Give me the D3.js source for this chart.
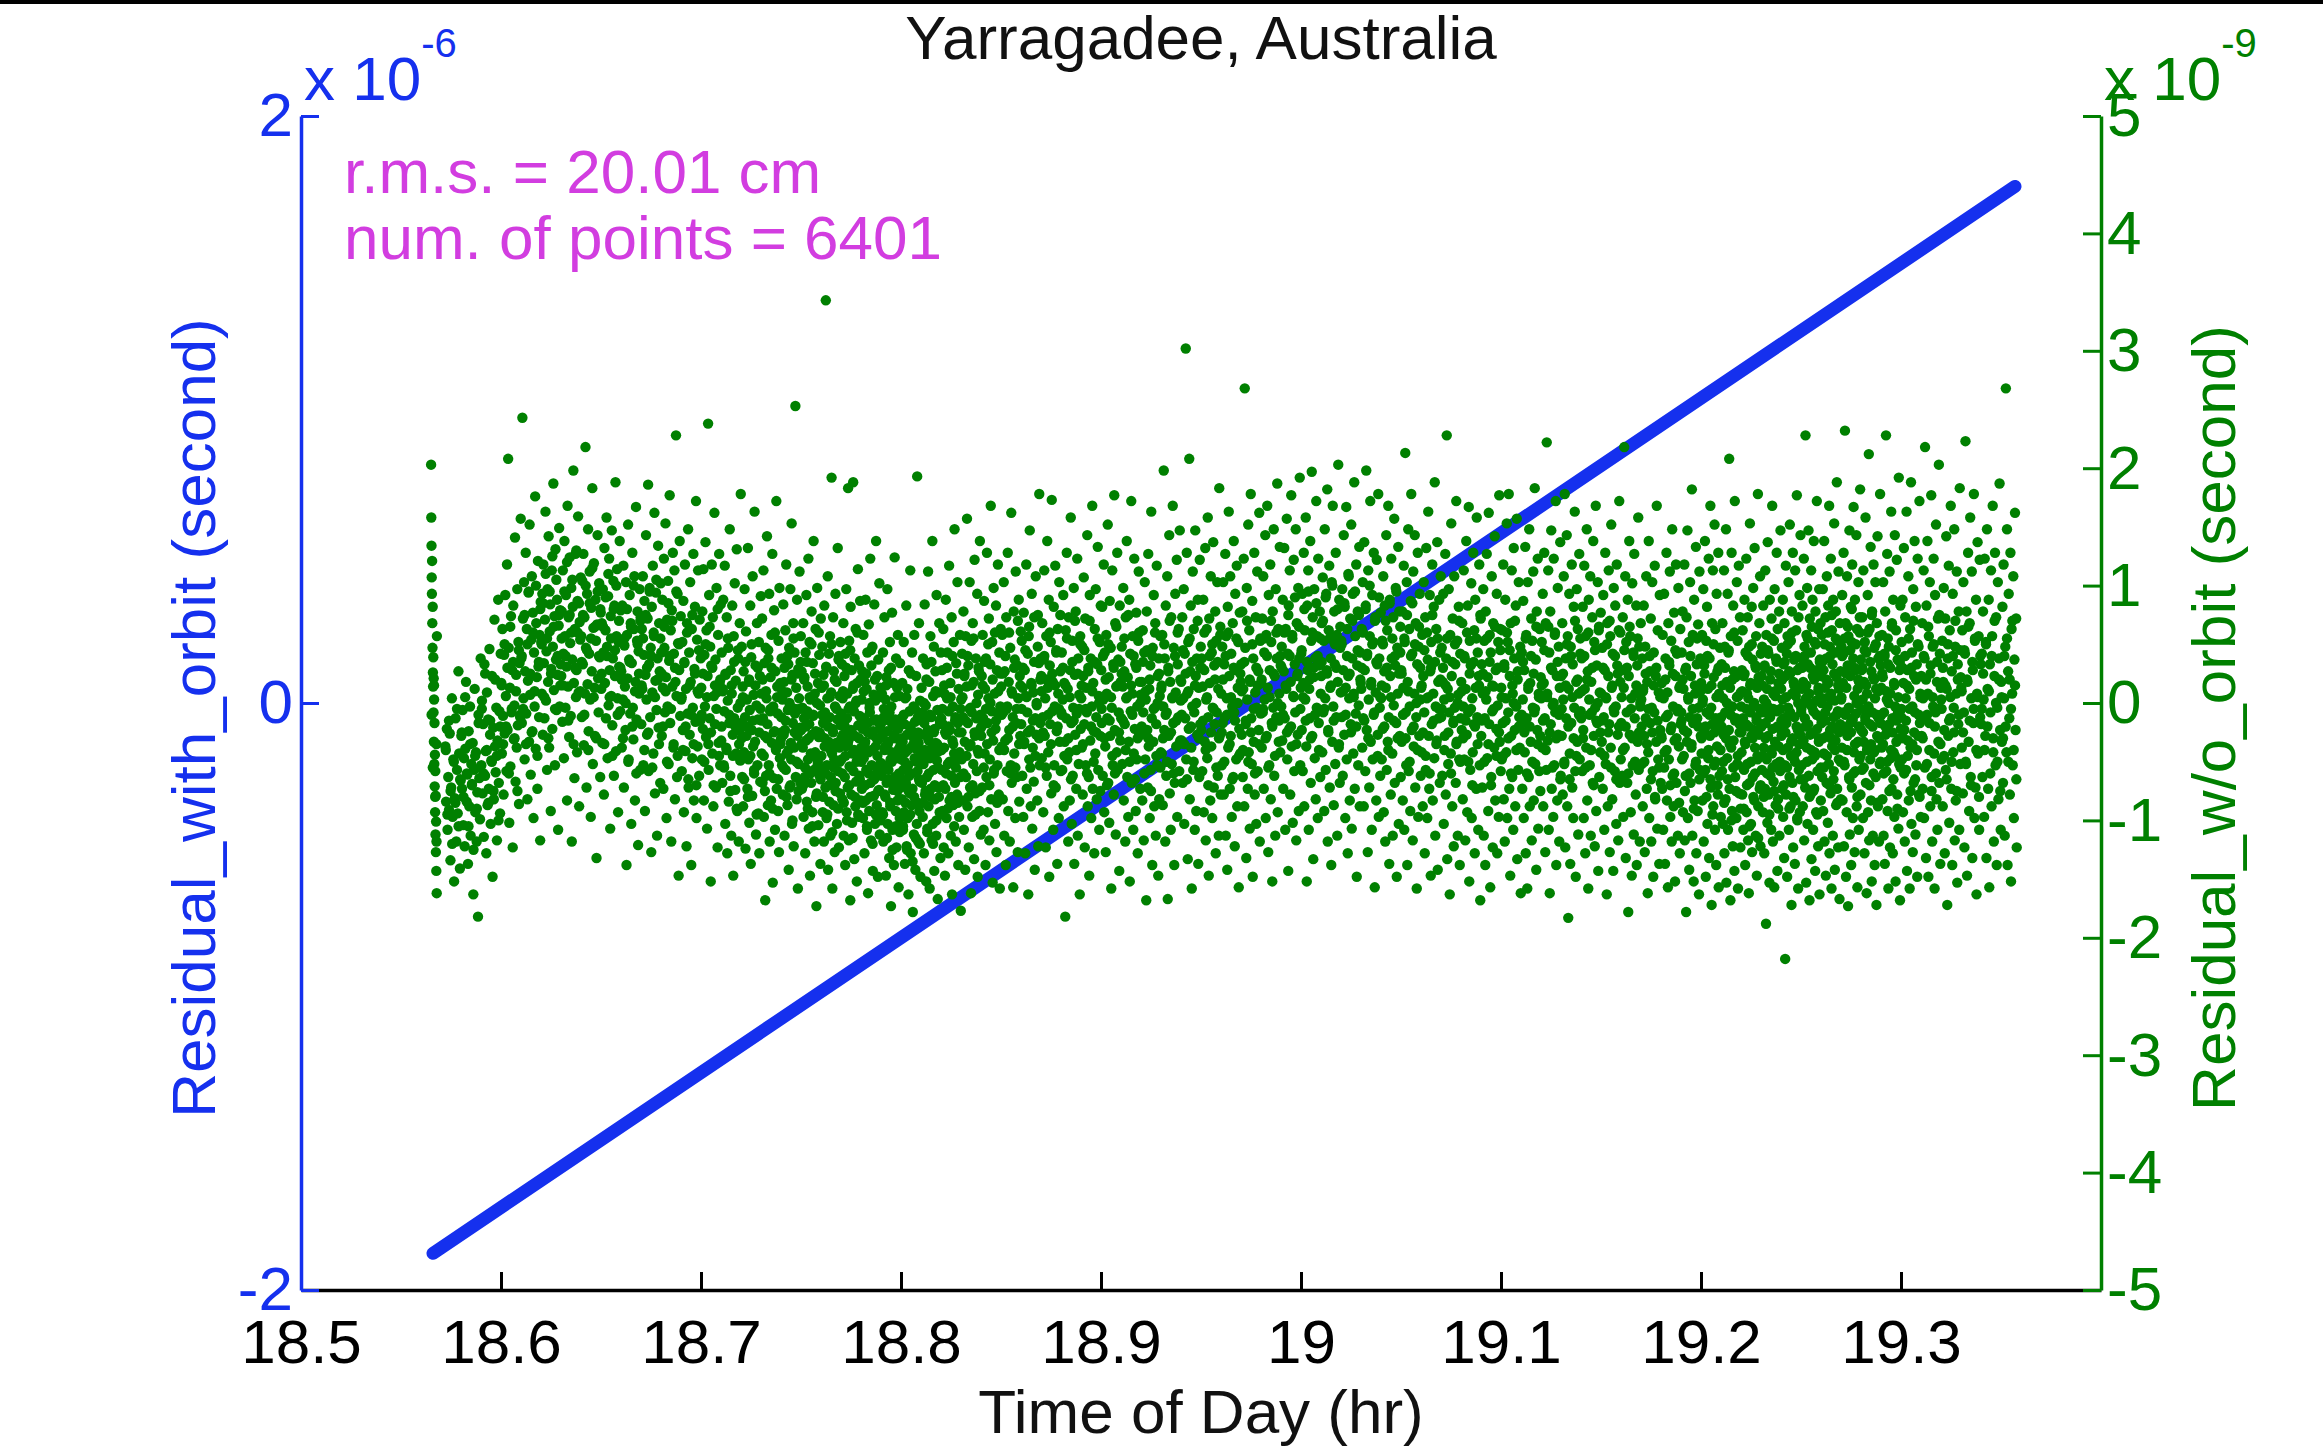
<!DOCTYPE html>
<html><head><meta charset="utf-8">
<script src="https://cdn.jsdelivr.net/npm/d3@7/dist/d3.min.js"></script>
<style>
html,body{margin:0;padding:0;background:#fff;}
svg{display:block;}
text{font-family:"Liberation Sans",Arial,Helvetica,sans-serif;}
</style>
</head><body>
<svg id="chart" width="2323" height="1451"></svg>
<script>
// ---------- data ----------
const chartTitle = "Yarragadee, Australia";
const xLabel = "Time of Day (hr)";
const leftLabel = "Residual_with_orbit (second)";
const rightLabel = "Residual_w/o_orbit (second)";
const annotationLines = ["r.m.s. = 20.01 cm", "num. of points = 6401"];
const xTicks = [18.5, 18.6, 18.7, 18.8, 18.9, 19.0, 19.1, 19.2, 19.3, 19.4];
const xTickLabels = ["18.5", "18.6", "18.7", "18.8", "18.9", "19", "19.1", "19.2", "19.3", ""];
const leftTicks = [-2, 0, 2];               // x 10^-6
const leftTickLabels = ["-2", "0", "2"];
const rightTicks = [-5, -4, -3, -2, -1, 0, 1, 2, 3, 4, 5];   // x 10^-9
const rightTickLabels = ["-5", "-4", "-3", "-2", "-1", "0", "1", "2", "3", "4", "5"];
const leftExponent = "-6";
const rightExponent = "-9";

// residual with orbit (units of 1e-6 s)
const blueTimes = [18.566, 19.357];
const blueValues = [-1.875, 1.76];

// residual without orbit: points grouped by time bin, values in units of 0.01e-9 s
const greenBinStart = [18.565, 18.572, 18.58, 18.59, 18.60, 18.61, 18.62, 18.63, 18.64, 18.65,
  18.66, 18.67, 18.68, 18.69, 18.70, 18.71, 18.72, 18.73, 18.74, 18.75,
  18.76, 18.77, 18.78, 18.79, 18.80, 18.81, 18.82, 18.83, 18.84, 18.85,
  18.86, 18.87, 18.88, 18.89, 18.90, 18.91, 18.92, 18.93, 18.94, 18.95,
  18.96, 18.97, 18.98, 18.99, 19.00, 19.01, 19.02, 19.03, 19.04, 19.05,
  19.06, 19.07, 19.08, 19.09, 19.10, 19.11, 19.12, 19.13, 19.14, 19.15,
  19.16, 19.17, 19.18, 19.19, 19.20, 19.21, 19.22, 19.23, 19.24, 19.25,
  19.26, 19.27, 19.28, 19.29, 19.30, 19.31, 19.32, 19.33, 19.34, 19.35];
const greenBinEnd = [18.568, 18.58, 18.59, 18.60, 18.61, 18.62, 18.63, 18.64, 18.65, 18.66,
  18.67, 18.68, 18.69, 18.70, 18.71, 18.72, 18.73, 18.74, 18.75, 18.76,
  18.77, 18.78, 18.79, 18.80, 18.81, 18.82, 18.83, 18.84, 18.85, 18.86,
  18.87, 18.88, 18.89, 18.90, 18.91, 18.92, 18.93, 18.94, 18.95, 18.96,
  18.97, 18.98, 18.99, 19.00, 19.01, 19.02, 19.03, 19.04, 19.05, 19.06,
  19.07, 19.08, 19.09, 19.10, 19.11, 19.12, 19.13, 19.14, 19.15, 19.16,
  19.17, 19.18, 19.19, 19.20, 19.21, 19.22, 19.23, 19.24, 19.25, 19.26,
  19.27, 19.28, 19.29, 19.30, 19.31, 19.32, 19.33, 19.34, 19.35, 19.358];
// full spread of each bin
const greenBinValues = [
[203,158,134,107,93,121,68,47,82,26,14,39,-8,21,-33,3,-52,-17,-71,-44,-93,-58,-112,-79,-127,-101,-143,-118,-162,57],
[-37,-84,-22,-108,-63,-91,-26,-134,-72,4,-97,-48,-152,-81,-13,-118,-57,-94,27,-43,-141,-66],
[-28,-73,-6,-104,-47,-122,-39,18,-84,-61,-137,-24,-88,-3,-113,-52,-69,-34,-163,-57,12,-93,-42,-118,-76,-182,-17,-64,-99,38],
[-53,2,-77,-18,-114,33,-62,-41,-128,9,-87,-14,-73,46,-27,-103,-49,23,-148,-21,-82,71,-37,-59,-4,-117,-32,88,-68,-7,-94,42],
[17,-43,63,-11,-78,41,-26,92,6,-58,118,-23,208,47,-102,13,-54,74,-8,28,-123,83,-31,-2,141,-67,24,-38,97,-19,52,-86,34,-12,157],
[38,-17,243,72,4,103,-48,27,128,-9,63,-82,19,94,-33,152,7,-61,54,108,-24,77,-98,43,-3,176,-39,68,22,-73,121,31,-12,58,-117,86],
[52,8,93,-27,118,34,-13,71,163,2,44,-57,97,18,142,-38,61,84,-92,29,113,-22,48,187,11,74,-53,131,37,-6,88,24,-108,66,149,-3,79,33],
[23,78,-16,113,42,-47,138,57,-4,92,31,-83,168,14,73,-29,124,51,-11,98,-118,37,82,198,17,-64,63,127,5,28,-42,87,159,9,-88,69,54,107],
[57,-12,104,33,127,-36,73,8,218,47,-72,93,16,148,-24,42,112,3,-97,81,27,183,-52,64,119,13,-28,88,53,-132,67,143,21,-8,102,39,-63,77],
[12,68,-34,97,43,-78,132,17,62,-13,158,48,-47,91,-2,123,28,-107,74,6,147,-19,38,104,-62,83,23,188,-41,57,114,4,-93,52,31,138,-7,79],
[27,-38,83,3,117,-72,49,14,-23,103,-138,58,21,152,-48,37,92,-9,68,-103,34,128,-4,-31,63,108,-83,18,167,-14,53,78,-121,44,8,97,-57,73],
[-18,63,12,108,-53,41,87,-92,24,143,3,-27,72,186,-58,33,98,-12,47,-127,82,9,117,-43,57,162,-77,19,94,-6,-113,38,134,-21,68,27,-68,102],
[43,-28,88,13,-73,123,47,-8,153,22,-98,71,-3,104,-52,36,177,-17,62,-118,79,14,128,-38,42,113,-82,18,228,6,-63,93,51,-147,28,138,-11,74],
[3,-58,52,-23,87,-93,34,118,-41,12,-122,68,-9,148,-72,43,-27,103,18,-138,63,-47,-4,127,-83,29,82,-16,172,-98,54,-37,113,8,-62,71,-12,38],
[13,-48,78,-22,114,-83,41,-3,137,-29,62,-107,23,238,-57,92,-13,48,-152,32,118,-43,73,-88,6,162,-18,37,-72,98,9,-123,58,-34,127,17,-53,84],
[-32,43,-68,12,88,-53,-7,117,-103,24,-38,73,-128,2,47,-84,-17,148,-62,28,-113,8,83,-27,-147,57,-13,102,-74,19,-43,131,-92,-4,38,-118,-23,68,-49,178],
[-17,48,-63,14,-88,27,-42,97,-12,-124,61,-28,3,-73,132,-48,18,-102,-6,83,-137,39,-23,-79,108,-37,7,-57,163,-33,32,-112,-2,68,-53,-14,-94,52,-128,23,-67,91],
[8,-43,72,-68,-13,113,-97,34,-28,-168,47,-62,4,142,-18,-87,38,-53,93,-118,-7,22,-83,58,-34,127,-153,-3,-64,79,-24,-108,27,-39,172,-73,14,-9,-92,53,-127,98,-47,17,-31],
[-12,38,-53,3,-78,84,-27,18,-113,-23,62,-57,118,-43,9,-87,-6,33,-142,47,-72,-2,97,-34,-48,153,-103,24,-17,68,-122,-38,43,-9,253,-63,13,-82,88,-28,-158,29,-52,4,112,-21,-68,57],
[-23,27,-73,-4,-38,68,-97,-13,22,-63,-128,43,-32,92,-84,-7,14,-48,123,-107,-18,52,-147,3,-43,-68,78,-27,-93,34,-11,138,-57,-118,8,-42,63,-24,-173,-77,98,-53,17,-104,-29,41,-62,-2,-137,72],
[-28,13,-57,48,-93,-17,24,-118,83,-37,-8,-72,343,31,-98,-53,4,108,-142,-33,42,-84,-12,57,-113,-63,9,192,-43,-158,-22,73,-87,27,-48,-127,-3,93,-68,-34,18,-103,-14,132,-58,37,-123,-38,6,-77,52,-19],
[-9,-48,33,-82,4,-27,68,-113,-18,23,-63,-138,42,-37,97,-93,-13,8,-72,183,-32,-117,53,-54,-3,-168,82,-23,-78,28,-102,-43,12,188,-58,-7,-133,38,-28,-88,63,-67,2,-152,17,-49,114,-19,-97,32,-62,-11,87,-44,-83],
[-38,3,-73,27,-22,-98,58,-47,-13,-128,18,-33,88,-83,-57,12,-108,43,-17,-162,-42,67,-92,-4,-8,123,-68,-117,32,-53,-27,48,-143,-24,7,-79,84,-62,-103,2,-37,138,-14,-87,23,-58,-148,37,-31,-74,102,-112,-19,13,-51],
[-17,-62,8,-93,-28,43,-118,-12,-53,73,-78,-37,3,-147,22,-68,-24,97,-103,-33,-57,28,-132,-8,52,-88,-48,-173,-3,-42,77,-108,-19,-74,17,-138,-27,124,-63,-14,-92,38,-123,-47,13,-83,58,-22,-157,-39,6,-98,34,-72,-31],
[-48,-13,-82,17,-33,-108,-57,52,-93,-18,-137,4,-42,-68,83,-122,-27,12,-98,-53,-163,28,-62,-7,-77,113,-128,-38,-23,-87,43,-73,-178,-29,-3,-112,58,-47,-16,-142,-84,23,-39,-103,193,-58,-12,-118,-34,68,-92,-67,2,-148,-52],
[-27,13,-68,-8,-97,38,-52,-128,-17,84,-78,-43,-2,-152,33,-63,-107,-23,112,-88,-32,18,-158,-47,57,-73,-12,-117,-38,138,-103,6,-57,48,-143,-22,-82,27,-34,-113,92,-49,-6,-167,9,-72,-41,68,-93,-18,-132,43],
[-13,-57,28,-92,-18,63,-123,-38,8,-147,-73,88,-27,-98,4,43,-52,-128,-7,117,-83,-23,17,-113,-62,73,-163,-32,-3,-87,52,-43,148,-68,-12,-118,34,-48,-78,103,-17,-138,12,-97,-42,58,-63,-177],
[3,-48,42,-83,-12,78,-108,23,-33,-142,57,-63,14,157,-88,-17,32,-123,-37,103,-72,-4,-162,53,-8,-97,68,-52,18,-133,122,-28,-77,38,-13,-58,93,-148,7,-43,27,-92,138,-22,-112],
[-28,23,-72,58,-13,-108,87,-43,12,-138,38,-63,128,-17,-93,4,72,-117,-48,33,168,-82,-7,52,-153,-32,98,-57,8,-103,-22,83,-127,28,-53,118,-9,-78,43,-158,-3,63],
[14,-37,58,-82,-8,103,-113,27,-32,-138,73,-58,-3,128,-92,18,-23,-118,47,-53,162,-68,8,-12,-157,78,-43,37,-98,112,-17,-63,32,-127,4,88,-84,23,-28,61],
[-18,53,-62,13,-97,77,-33,28,-128,6,118,-73,-8,42,-163,57,-48,147,-23,-88,17,93,-107,-38,9,-67,73,-142,-13,108,-27,-2,-83,48,-122,34,178,-53,-17,38],
[23,-47,68,-12,-93,37,113,-28,4,-123,57,-62,138,13,-42,88,-148,32,-18,52,-77,173,-7,18,-108,82,-53,-3,117,-72,43,-24,-137,63,8,-98,103,-33,27,-58],
[-8,43,-57,3,92,-88,17,-33,-182,62,-13,128,-48,12,-118,73,-42,-83,28,158,-17,-103,53,-62,-4,98,-137,24,-27,78,-73,-9,123,-113,38,-52,7,-163,57,-22],
[4,-38,48,-78,23,107,-18,-123,72,-53,13,-8,143,-88,27,-63,-147,92,-32,38,-98,-3,168,-73,17,-24,-128,63,-43,97,-12,-82,33,133,-57,6,-108,52,-28,83],
[28,-17,82,-62,3,118,-93,43,-37,-127,58,8,-13,152,-68,22,-102,87,-28,47,-158,-4,113,-53,33,-78,177,-23,68,-112,14,-42,128,-57,37,-8,-143,83,-32,18],
[-13,48,-52,14,98,-83,27,-18,-118,73,4,138,-63,22,-97,-33,88,-152,42,-7,172,-68,8,57,-108,-43,123,-22,33,-92,77,-48,-3,-128,53,112,-27,18,-73,7],
[-27,18,-83,62,-8,-117,43,103,-48,3,-168,78,-23,-72,127,-37,12,-98,32,-57,163,-13,-138,47,-33,92,-88,-4,68,-113,-18,117,-53,23,-147,38,-82,6,57,-42],
[12,-43,58,-87,-3,198,-23,38,-118,83,-62,-8,108,-167,27,-28,143,-77,18,-108,73,-52,4,168,-17,47,-138,-68,93,9,-37,122,-97,33,-12,63,-58,147,-32,2],
[18,-32,73,-68,4,97,-103,42,-13,302,-48,128,8,-133,52,-22,208,-82,27,83,-38,-158,-3,112,-57,63,-8,-108,147,23,-92,38,-27,88,-137,13,-63,122,-18,48],
[-23,38,-58,14,88,-93,28,-33,132,-117,3,63,-47,158,-12,-147,72,17,-83,108,-37,43,-98,-4,137,-72,32,-18,78,-128,53,-8,103,-62,12,-113,183,-28,58,-78],
[8,-53,48,-17,103,-78,33,-12,127,-113,57,4,-142,82,-38,163,23,-73,108,-28,42,-97,-3,68,-63,138,-8,-122,93,28,-48,117,-88,13,52,-157,-22,77,-43,18],
[33,-27,78,-63,12,123,-88,268,47,-18,-132,98,3,-73,152,-42,62,-107,18,178,-13,-52,87,-148,38,-33,128,-78,9,73,-103,-4,112,-58,27,-23,162,-118,53,-9],
[17,-38,72,-8,108,-73,43,3,143,-98,58,-28,168,13,-127,92,-53,28,118,-82,52,-17,-152,78,-4,148,-62,23,-113,97,-12,38,187,-93,63,-33,8,133,-42,32],
[-3,48,-32,88,-73,27,132,-13,-108,63,12,157,-48,42,-143,83,-22,113,-78,18,177,-37,58,-102,6,122,-58,33,-8,148,-117,68,23,-27,98,-92,38,192,-53,13],
[42,-23,93,-58,17,128,-88,62,3,158,-37,-152,83,28,113,-108,12,-13,138,-68,53,197,-28,73,-133,22,97,-47,38,-82,172,-4,57,-98,123,-17,32,78,-63,8],
[23,68,-42,107,-8,53,-92,148,4,-57,93,28,182,-118,-23,62,117,-72,13,38,-138,103,-33,168,-3,-87,78,33,-52,128,-12,58,-113,18,203,-38,88,-68,47,9],
[53,-12,97,-62,28,143,-27,82,-98,13,167,-48,63,-128,23,108,4,-83,72,-18,152,-107,38,93,-43,8,188,-73,57,-9,118,-148,32,78,-53,-2,133,-88,43,17],
[12,63,-38,103,-13,-88,137,28,-58,83,198,-23,42,-127,113,3,-72,57,172,-33,18,-108,92,-48,52,128,-8,-157,73,9,-83,122,33,-27,178,-97,38,-4,-62,77],
[4,-48,53,-22,108,-93,27,83,-118,13,143,-57,62,-33,168,-12,-137,88,23,-78,123,38,-43,-113,73,-2,157,-68,32,98,-17,-148,47,8,133,-103,78,-28,43,-63],
[28,-33,78,-83,13,117,-108,52,213,-8,-53,103,-138,18,148,-58,63,-3,-92,87,178,-23,42,-117,112,-37,8,143,-72,68,-12,-158,33,128,-97,48,-28,93,3,-62],
[13,-42,58,-88,23,103,-8,-128,73,-57,132,4,-98,37,163,-28,-73,92,27,-147,52,-18,118,-83,8,82,-47,188,-113,-3,63,-32,137,-142,18,-13,88,-68,43,108],
[-12,47,-62,18,93,-103,3,-28,127,-78,38,228,-133,12,-52,97,-8,-163,58,-43,153,23,-88,72,-17,-122,108,-4,33,-68,172,-33,53,-113,7,82,-48,-138,42,-13],
[18,-23,68,-82,-3,113,-48,38,-117,12,138,-27,-93,83,-8,167,-152,53,-57,32,102,-98,4,-42,128,-18,62,-128,88,13,-73,158,-12,43,-108,23,118,-53,-168,72],
[-28,33,-72,8,97,-113,53,-13,-138,78,3,127,-47,22,-92,162,-18,58,-157,43,-63,108,-7,-123,68,14,-38,142,-83,28,-22,93,-128,-2,52,-97,177,-33,63,-58],
[13,-48,62,-17,118,-82,33,-118,88,4,-42,153,-98,52,-8,178,-73,23,-147,68,-28,113,-63,8,-108,132,38,-23,-88,83,-3,157,-133,27,-57,103,-12,-38,48,-162],
[-18,43,-73,3,87,-98,28,-42,133,-128,58,-13,-158,103,12,-63,148,-88,17,-33,72,-117,53,-4,112,-83,-8,183,-52,37,-142,78,-23,123,-107,8,-58,63,-28,22],
[4,52,-38,93,-88,17,128,-13,-127,68,-57,222,8,-32,113,-108,43,-162,78,-18,147,-73,28,-2,-97,123,-53,58,-8,172,-138,23,-83,98,-27,48,-118,13,137,-62],
[23,-28,68,-78,3,108,-52,178,-123,38,-13,143,-88,57,-183,12,93,-43,-137,48,-17,118,-72,33,-98,82,-4,163,-58,-148,18,97,-33,63,-112,8,127,-48,42,-7],
[-13,38,-58,82,-23,-98,117,12,-128,57,-38,148,-83,27,-158,88,3,-53,108,-113,18,-8,73,-68,138,-28,52,-122,-4,168,-92,32,-17,103,-143,62,-63,9,-42,77],
[8,-33,47,-73,92,-12,-108,28,128,-52,4,-163,68,-88,23,113,-18,-127,57,-38,152,13,-82,42,-143,98,-8,-58,83,-3,-103,118,32,-27,-117,62,172,-68,18,-48],
[-17,28,-62,73,-97,13,218,-38,108,-132,52,-8,-68,88,-178,23,138,-27,57,-93,4,-147,102,-53,43,-112,127,-13,8,-78,83,-138,32,-33,158,-57,48,-118,-3,68],
[3,-52,38,-88,12,83,-28,-127,48,-13,108,-73,18,-162,-42,138,-98,27,-17,72,-118,-4,103,-58,-148,43,-8,117,-82,23,-33,168,-107,62,-48,9,-137,92,-23,-68],
[-28,17,-73,58,-108,4,93,-42,-137,38,-12,128,-83,9,-157,68,-48,32,112,-97,-23,53,-118,148,-62,-3,-88,77,-32,-152,23,118,-68,42,-7,-113,98,-37,13,-128,63,-18],
[-8,43,-48,78,-93,12,-23,118,-117,28,-62,-178,73,-33,147,-98,3,52,-142,-12,103,-68,23,-38,182,-113,58,-17,-152,88,-83,8,-53,133,-128,33,-13,-92,67,-4,-163,112,-57,38,-28],
[17,-43,58,-83,3,97,-118,32,-23,138,-57,-148,53,-8,82,-103,12,-47,123,-132,38,-28,168,-72,-4,-172,68,-18,113,-88,22,-53,152,-108,63,-13,-138,93,-37,27,-78,128,-157,8,-62,47,-22,-97],
[-12,33,-58,68,-103,4,-27,113,-128,48,-8,-82,148,-153,18,-47,93,-108,43,-23,208,-73,13,-168,57,-38,128,-92,-3,-122,83,-32,27,-143,172,-63,22,-13,-98,103,-52,53,-158,6,117,-77,-18,73,-123,9],
[-3,-42,28,-78,62,-13,-108,23,-57,88,-33,-138,43,-18,123,-93,8,-52,73,-117,4,-162,48,-68,153,-8,17,-103,-28,82,-127,37,-63,98,-2,-23,-83,132,-38,32,-113,57,-12,-147,13,-48,178,-88,22,-27,68,-73,108,-122,42],
[-18,23,-57,48,-8,-93,83,-38,3,-128,32,-73,113,-17,-188,58,-48,12,-102,137,-28,42,-78,-4,-153,88,-12,-62,27,-108,72,-43,168,-22,-118,8,-67,53,-157,97,-33,6,-87,38,-52,128,-7,-143,63,-82,17,-37,78,-113,13,-58,147,-23],
[12,-28,47,-73,3,88,-97,33,-13,-132,68,-53,-218,23,117,-78,-17,42,-148,57,-38,-4,103,-108,27,-63,152,-8,-88,53,-33,-172,78,8,-68,128,-123,18,-47,37,-12,-137,113,-83,6,62,-42,177,-98,28,-23,-158,73,-57,13,92,-93,-27,143,-3],
[-8,38,-53,12,83,-88,18,-32,123,-117,48,-13,-72,228,4,-153,58,-38,98,-103,33,-18,147,-62,8,-168,72,-27,-78,43,113,-133,-3,-48,88,23,-108,-7,138,-73,52,-42,-143,78,2,-93,28,172,-22,-58,63,-122,13,-33,97,-163,37,-12,68,-83],
[23,-17,58,-63,4,97,-92,28,-43,138,-118,13,-8,73,-147,38,-68,108,-28,-3,-102,83,17,-52,168,-128,48,-23,-77,123,8,-158,62,-37,33,-113,88,-12,-58,153,2,-142,43,-32,78,-87,22,188,-73,53,-7,-123,112,-48,12,-167,68,-18,27,-82],
[3,48,-38,92,-83,17,-8,128,-122,43,-53,232,-23,68,-148,13,-93,108,-28,32,-173,57,-4,-63,147,-112,23,-17,82,-138,52,-72,118,-13,-98,38,167,-42,6,-127,88,-58,28,-9,143,-88,63,-157,12,-33,103,-108,18,-48,73,182,-78,37],
[-23,28,-57,73,3,-98,113,-33,18,-128,52,-12,158,-68,43,-162,8,-37,92,-93,-3,212,-117,63,-18,-48,133,-83,27,-152,78,-8,-113,22,118,-42,47,-138,4,103,-63,12,-172,68,-28,142,-88,38,-13,-118,57,-52,178,-17,32],
[13,-38,58,-82,22,103,-113,-8,42,-137,78,-27,228,-58,3,127,-92,33,-158,48,-18,112,-123,8,-47,163,-73,68,-13,-128,88,-42,17,-97,143,-3,-152,62,-33,122,-78,37,-8,-107,192,-52,28,-168,83,-22],
[-12,52,-48,88,-93,17,132,-23,-118,73,4,-57,163,-143,28,-32,108,-83,12,-158,63,-38,188,-103,43,-3,-127,97,-68,23,138,-8,-112,82,-53,33,-148,123,-28,48,-78,172,-17,8,-97],
[23,-28,68,-73,4,113,-98,38,218,-12,-132,83,-52,138,8,-148,57,-17,103,-88,32,177,-63,-118,48,-3,123,-43,-158,92,-8,152,-82,18,-108,72,-33,203,-68,42,-137,13],
[3,-48,53,-88,18,98,-23,-128,72,-57,142,12,-172,38,-28,117,-102,62,-13,168,-73,27,-138,93,-42,-4,148,-117,48,-83,8,112,-153,33,-18,78,-108,183,-52,22],
[13,-38,62,-77,103,-8,-123,42,223,-52,78,-147,18,128,-33,-92,68,158,-63,4,112,-132,28,-17,178,-98,53,-72,88,-163,8,137,-43,57,-108,122,-12,33],
[-18,42,-63,78,3,-97,123,-28,52,-132,148,12,-73,88,-157,33,-8,113,-88,57,168,-42,-118,23,128,-53,73,-138,-4,103,-82,38,187,-23,-108],
[18,-33,82,-68,118,4,-113,48,268,-42,148,-138,27,93,-13,-78,128,-152,63,8,-53,108,-98,37,162,-23,72,-123]
];
// additional points in the denser middle part of each bin (same units)
const greenBinCoreValues = [
[-10,-55,15,-80,-35],
[-40,-95,-15,-75,-120,-50,-85,-5,-105,-65],
[-25,-80,5,-60,-105,-35,-70,-125,-45,-90,-10,-55],
[-5,-60,25,-40,-85,-15,-50,-75,20,-45,-100,-20],
[15,-35,50,-20,30,-60,65,-5,35,-30,10,-75,45,-10],
[40,-5,75,-35,50,95,25,-25,60,10,100,-45,35,80],
[50,85,5,110,55,-30,95,25,125,65,-5,105,40,75,15],
[55,15,95,40,120,-15,75,60,105,-35,30,130,60,85,10],
[35,75,-10,100,45,-40,85,55,115,5,65,-30,95,40,80],
[25,65,-35,90,40,110,5,55,-45,80,45,100,-10,70,30],
[20,-30,55,0,80,-50,35,65,-20,100,10,-60,50,25,70],
[15,55,-40,75,30,-25,95,40,-55,60,5,105,20,-35,55],
[25,-20,65,10,-50,85,40,-5,70,-35,30,95,-45,50,5],
[5,-40,35,-20,60,-65,15,-10,75,-35,25,-70,10,45,-15],
[-10,25,-50,50,5,-35,65,-25,30,-70,15,-5,80,-45,20],
[-20,10,-55,25,-40,55,-10,-75,15,-45,35,-20,-90,45,-35,0],
[-30,5,-65,35,-20,-80,20,-45,50,-15,-60,15,-95,30,-25,-5],
[-15,20,-45,-75,10,-30,45,-60,-5,30,-90,-25,60,-40,5,-65,15,-35],
[-25,10,-55,30,-15,-80,40,-40,0,-70,20,-100,55,-25,-5,-50,25,-75,-5,35],
[-35,-5,-70,20,-55,-20,35,-90,-30,5,-60,50,-105,-10,-45,25,-80,0,-50,60,-25,-65],
[-45,-10,-80,15,-30,-60,30,-95,-20,-70,5,-40,50,-110,-25,-55,20,-75,-5,-35,-90,40,-50,-15],
[-30,-60,10,-85,-20,-45,30,-100,-35,-5,-70,45,-55,-25,-115,15,-40,-80,0,-50,60,-95,-30,-65,20],
[-50,-15,-85,10,-35,-70,25,-105,-25,-60,0,-80,45,-40,-120,-15,-65,20,-95,-30,-45,-75,5,-55,-100],
[-55,-25,-95,-5,-40,-80,15,-115,-35,-65,-15,-85,30,-50,-125,-30,-70,5,-105,-45,-75,-15,-60,-110,-35],
[-65,-30,-105,-10,-50,-85,5,-125,-40,-75,-20,-95,25,-60,-135,-35,-80,-5,-115,-50,-85,-25,-65,-120,-45],
[-50,-15,-85,0,-40,-75,20,-110,-30,-60,-10,-80,35,-45,-120,-25,-70,10,-100,-35,-55,-80,-15,-95],
[-40,-5,-70,15,-25,-60,30,-90,-20,-50,5,-80,40,-35,-105,-15,-55,25,-85,-25,-45,-5],
[-25,5,-60,25,-15,-45,40,-80,-5,-35,15,-70,55,-25,-95,0,-40,30,-75,-10],
[-20,15,-55,35,-5,-35,50,-70,0,-25,20,-60,60,-15,-85,10,-40,25],
[-10,25,-40,40,-5,-30,60,-60,10,-20,30,-55,-5,70,-35,15],
[-5,30,-35,45,5,-25,65,-55,15,-15,35,-45,0,75,-30,20],
[10,-25,40,-55,20,-10,60,-35,25,-70,15,45,-20,-5,75],
[-10,30,-45,15,55,-30,5,-65,35,-15,70,-40,25,-5,50],
[15,-35,45,-5,-60,30,70,-20,10,-50,35,-25,55,0,-75],
[-5,40,-30,20,-70,50,-15,5,-45,30,-60,65,15,-25,35],
[25,-15,55,-40,5,75,-50,15,-10,40,-65,30,-30,60,0],
[-20,35,-60,10,45,-30,20,-75,40,-5,60,-45,0,25,-55],
[15,-30,50,-10,-50,30,70,-25,5,-60,40,-15,60,-35,20],
[-10,45,-35,25,-65,10,55,-20,35,-50,15,0,70,-30,30],
[30,-15,60,-40,5,-70,40,-25,50,-5,20,-55,35,-30,65],
[-25,20,-50,40,-10,60,-35,5,-65,30,-15,55,0,-45,25],
[10,-40,35,-15,70,-50,20,-25,50,-5,-60,30,15,-35,55],
[20,-5,55,-30,40,-55,5,70,-20,25,-45,60,0,-15,40],
[30,-10,60,15,-25,75,40,-20,55,5,90,-35,25,65,-5],
[45,5,80,-15,35,95,20,-30,60,30,-10,85,40,-40,55],
[35,70,-5,90,25,-25,55,15,100,-15,50,30,80,-35,65],
[50,10,85,-10,40,110,25,-25,70,5,95,-20,45,75,20],
[30,60,-15,80,40,-30,100,15,50,-10,70,35,-45,90,5],
[15,50,-20,70,30,-40,85,5,55,-15,40,95,-30,25,65],
[25,-10,55,-30,75,10,-50,40,85,-20,50,0,-40,65,30],
[15,-25,45,-45,60,5,-60,30,75,-15,35,-35,55,-5,20],
[-5,30,-40,15,55,-25,5,-60,35,-15,50,-35,0,70,-50],
[10,-30,40,-15,60,-50,25,-5,-70,35,-20,55,-35,15,75],
[-15,25,-50,10,55,-35,35,-70,15,-5,65,-45,30,-25,45],
[5,-45,30,-15,60,-30,45,-60,15,0,70,-40,20,-20,40],
[-10,35,-25,55,-60,15,-20,40,-50,25,-5,65,-35,5,-75],
[15,-15,45,-40,5,65,-25,30,-55,0,60,-30,35,-10,-65],
[-5,25,-50,15,50,-20,-65,40,5,-30,70,-45,20,-10,55],
[10,-30,40,-55,20,60,-10,-40,30,-70,45,-15,0,65,-25],
[-15,30,-45,5,50,-25,70,-55,15,-5,40,-65,25,-20,60],
[5,-40,45,-20,30,-60,65,-5,-30,40,-50,15,55,-25,0],
[-20,10,-50,25,-35,-5,40,-65,-25,15,-80,30,-15,-55,5],
[-30,5,-55,20,-40,-10,35,-70,-20,25,-60,45,-30,-5,-85,15],
[-15,20,-45,-75,30,-25,5,-60,40,-35,-5,-90,15,-50,55,-20,-65,10],
[-30,0,-60,25,-20,-80,40,-40,-10,-65,15,-95,50,-25,-50,5,-70,30,-15,-40],
[-20,15,-50,-85,30,-30,0,-65,45,-35,-10,-100,20,-55,60,-15,-75,5,-45,25,-25,-90],
[-25,10,-55,-90,25,-35,-5,-70,40,-20,-105,15,-50,50,-30,-80,0,-60,30,-15,-45,-115,20,-5,-70],
[-20,15,-45,-80,30,-30,0,-60,45,-10,-95,20,-40,55,-55,-5,-75,10,-35,35,-20,-90,25,-50,-5],
[-15,20,-40,-70,35,-25,5,-55,50,-10,-90,25,-45,60,-30,-80,15,-50,40,-20,-100,0,-35,30,-65],
[-5,30,-35,-65,40,-20,15,-50,55,0,-80,30,-40,65,-25,-75,20,-45,50,-10,-95,10,-30,35,-55],
[0,35,-30,-55,50,-15,20,-45,60,5,-70,40,-30,75,-20,-65,25,-40,55,-10,-85,15,-25,45,-50],
[5,40,-20,-50,55,-10,25,-40,65,-5,-65,45,-25,80,-15,-60,30,-35,50,0,-80,20,-20,60,-45],
[-5,30,-25,-55,45,-15,15,-40,60,-5,-70,35,-35,75,-20,-60,20,-40,50,-10,-85,10,-30,40,-50],
[-10,25,-35,-60,40,-20,10,-50,55,0,-75,30,-40,65,-25,-65,15,-45,45,-15,-90,5,-30,35,-55],
[-5,30,-30,-60,40,-15,15,-45,55,-5,-75,30,-35,70,-25,-65,20,-40,50,-10,-80,5],
[5,-30,40,-55,20,-10,65,-40,25,-75,5,50,-20,-60,35,-5,75,-35],
[-5,30,-45,15,-65,50,-15,5,-50,40,-25,70,-75,20,-10,45],
[10,-25,45,-50,20,65,-15,-70,35,-5,55,-40,5,-80,40],
[-5,25,-40,50,-20,10,-60,40,-30,70,0,-50,20,-75],
[5,-30,40,-20,55,-50,20,-5,70,-40,15,-65]
];

// ---------- layout ----------
const W = 2323, H = 1451;
const plot = {left: 301, right: 2101, top: 116, bottom: 1290};
const BLUE = "#1530ee", GREEN = "#008000", MAGENTA = "#d23de0";
const FS = 62;

const svg = d3.select("#chart");
svg.append("rect").attr("x", 0).attr("y", 0).attr("width", W).attr("height", H).attr("fill", "#fff");
svg.append("rect").attr("x", 0).attr("y", 0).attr("width", W).attr("height", 4).attr("fill", "#000");

const x = d3.scaleLinear().domain([18.5, 19.4]).range([plot.left, plot.right]);
const yL = d3.scaleLinear().domain([-2, 2]).range([plot.bottom, plot.top]);
const yR = d3.scaleLinear().domain([-5, 5]).range([plot.bottom, plot.top]);

// blue line (residual with orbit)
const bluePts = blueTimes.map((t, i) => [t, blueValues[i]]);
svg.append("path")
  .datum(bluePts)
  .attr("d", d3.line().x(d => x(d[0])).y(d => yL(d[1])))
  .attr("fill", "none").attr("stroke", BLUE).attr("stroke-width", 13)
  .attr("stroke-linecap", "round");

// green points (residual without orbit): each bin's samples are spread evenly across the bin's time span
const greenPts = [];
[greenBinValues, greenBinCoreValues].forEach(set => {
  set.forEach((vals, b) => {
    const t0 = greenBinStart[b], t1 = greenBinEnd[b], n = vals.length;
    vals.forEach((v, i) => greenPts.push([t0 + (i + 0.5) / n * (t1 - t0), v / 100]));
  });
});
svg.append("g").selectAll("circle").data(greenPts).join("circle")
  .attr("cx", d => x(d[0])).attr("cy", d => yR(d[1]))
  .attr("r", 5.2).attr("fill", GREEN);

// axes
function styleAxis(g, color, fs) {
  g.select(".domain").attr("stroke", color).attr("stroke-width", 3.5);
  g.selectAll(".tick line").attr("stroke", color).attr("stroke-width", 3);
  g.selectAll(".tick text").attr("fill", color).attr("font-size", fs)
    .attr("font-family", '"Liberation Sans", Arial, Helvetica, sans-serif');
}
const xAxis = d3.axisBottom(x).tickValues(xTicks)
  .tickFormat((d, i) => xTickLabels[i]).tickSize(-18).tickSizeOuter(0).tickPadding(29);
svg.append("g").attr("transform", `translate(0,${plot.bottom})`).call(xAxis).call(g => styleAxis(g, "#000", FS));

const lAxis = d3.axisLeft(yL).tickValues(leftTicks)
  .tickFormat((d, i) => leftTickLabels[i]).tickSize(-18).tickSizeOuter(0).tickPadding(8);
svg.append("g").attr("transform", `translate(${plot.left},0)`).call(lAxis).call(g => styleAxis(g, BLUE, FS));

const rAxis = d3.axisRight(yR).tickValues(rightTicks)
  .tickFormat((d, i) => rightTickLabels[i]).tickSize(-18).tickSizeOuter(0).tickPadding(6);
svg.append("g").attr("transform", `translate(${plot.right},0)`).call(rAxis).call(g => styleAxis(g, GREEN, FS));

// exponent labels
function exponent(x0, color, exp) {
  const t = svg.append("text").attr("x", x0).attr("y", 100).attr("fill", color).attr("font-size", FS);
  t.append("tspan").text("x 10");
  t.append("tspan").attr("font-size", 40).attr("dy", -43).text(exp);
}
exponent(plot.left + 3, BLUE, leftExponent);
exponent(plot.right + 3, GREEN, rightExponent);

// title & labels
const midY = (plot.top + plot.bottom) / 2 + 15;
svg.append("text").attr("x", (plot.left + plot.right) / 2).attr("y", 59)
  .attr("text-anchor", "middle").attr("font-size", FS).attr("fill", "#111").text(chartTitle);
svg.append("text").attr("x", (plot.left + plot.right) / 2).attr("y", 1433)
  .attr("text-anchor", "middle").attr("font-size", FS).attr("fill", "#111").text(xLabel);
svg.append("text").attr("transform", `translate(215,${midY}) rotate(-90)`)
  .attr("text-anchor", "middle").attr("font-size", FS).attr("fill", BLUE).text(leftLabel);
svg.append("text").attr("transform", `translate(2235,${midY}) rotate(-90)`)
  .attr("text-anchor", "middle").attr("font-size", FS).attr("fill", GREEN).text(rightLabel);

// annotation
annotationLines.forEach((s, i) => {
  svg.append("text").attr("x", 344).attr("y", 193 + i * 66)
    .attr("font-size", FS).attr("fill", MAGENTA).text(s);
});
</script>
</body></html>
